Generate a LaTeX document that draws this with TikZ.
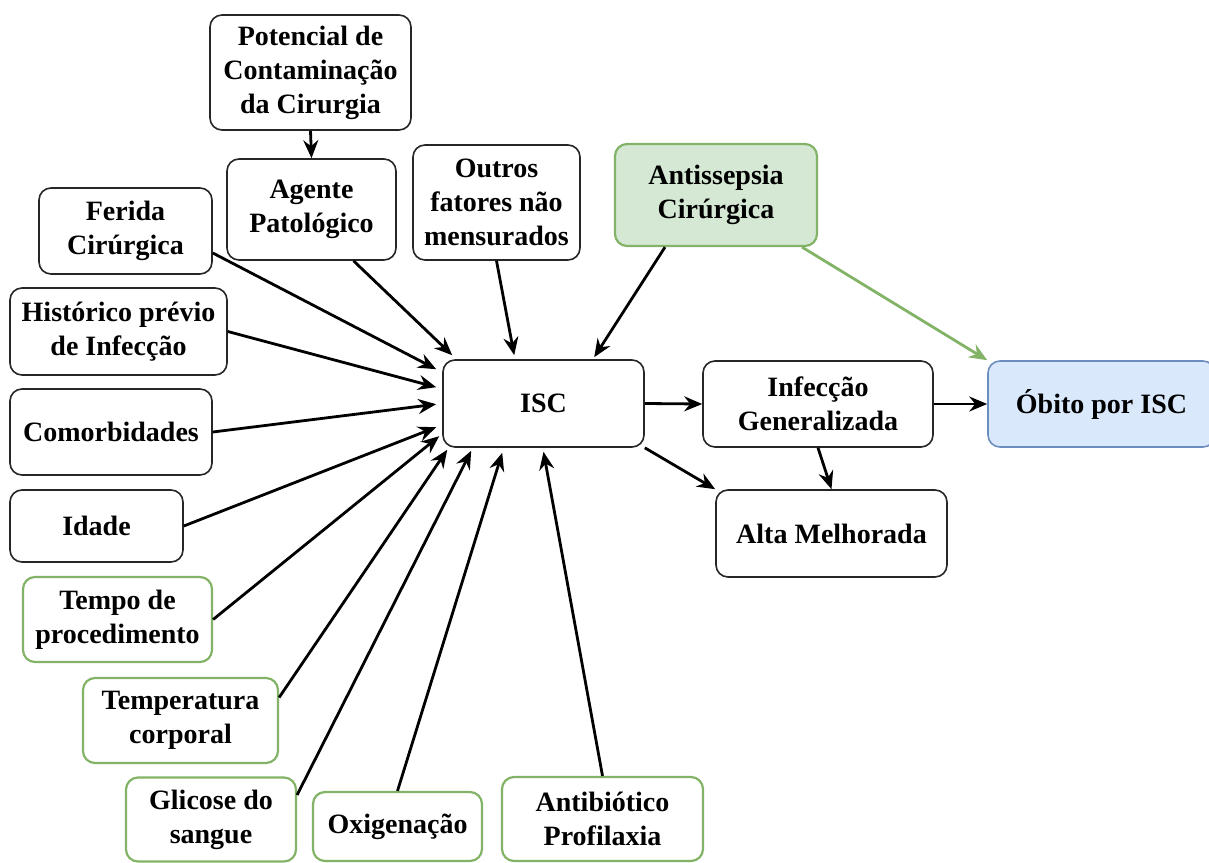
\documentclass[tikz,border=0pt]{standalone}
\usepackage{fontspec}
\setmainfont{Liberation Serif}[BoldFont={Liberation Serif Bold}]
\usetikzlibrary{arrows.meta,calc}
\definecolor{grn}{HTML}{82B366}
\definecolor{grnfill}{HTML}{D5E8D4}
\definecolor{blu}{HTML}{6C8EBF}
\definecolor{blufill}{HTML}{DAE8FC}

\begin{document}
\begin{tikzpicture}[x=0.5pt,y=-0.5pt,
  box/.style={draw=black!85, line width=0.8pt, rounded corners=6pt, fill=white,
    align=center, inner sep=0pt, font=\bfseries\fontsize{14}{17}\selectfont},
  gbox/.style={box, draw=grn, line width=1.1pt},
  arr/.style={line width=1.4pt, -{Stealth[length=9pt,width=7.5pt,inset=3pt]}}]

\useasboundingbox (0,0) rectangle (1209,862);

% causes and outcomes
\node[box, minimum width=100.5pt, minimum height=57.5pt] (pot) at (310.5,72.5) {Potencial de\\Contaminação\\da Cirurgia};
\node[box, minimum width=84.5pt, minimum height=50.5pt] (age) at (311.5,209.5) {Agente\\Patológico};
\node[box, minimum width=83.5pt, minimum height=57.5pt] (out) at (496.5,202.5) {Outros\\fatores não\\mensurados};
\node[box, draw=grn, fill=grnfill, line width=1.1pt, minimum width=101pt, minimum height=51pt] (ant) at (716,195) {Antissepsia\\Cirúrgica};
\node[box, minimum width=86.5pt, minimum height=43pt] (fer) at (125.5,231) {Ferida\\Cirúrgica};
\node[box, minimum width=108.5pt, minimum height=43.5pt] (his) at (118.5,331.5) {Histórico prévio\\de Infecção};
\node[box, minimum width=101pt, minimum height=43pt] (com) at (111,432) {Comorbidades};
\node[box, minimum width=86.5pt, minimum height=36pt] (ida) at (96.5,526) {Idade};
\node[gbox, minimum width=94.5pt, minimum height=42.5pt] (tem) at (117.5,619.5) {Tempo de\\procedimento};
\node[gbox, minimum width=97.5pt, minimum height=42.5pt] (tmp) at (180.5,720.5) {Temperatura\\corporal};
\node[gbox, minimum width=85pt, minimum height=42pt] (gli) at (211,819.5) {Glicose do\\sangue};
\node[gbox, minimum width=84.5pt, minimum height=34.5pt] (oxi) at (397.5,826.5) {Oxigenação};
\node[gbox, minimum width=100.5pt, minimum height=42pt] (atb) at (602.5,819) {Antibiótico\\Profilaxia};
\node[box, minimum width=100.5pt, minimum height=43.5pt] (isc) at (543.5,403.5) {ISC};
\node[box, minimum width=115pt, minimum height=43pt] (inf) at (818,404) {Infecção\\Generalizada};
\node[box, draw=blu, fill=blufill, minimum width=113.5pt, minimum height=43pt] (obi) at (1101.5,404) {Óbito por ISC};
\node[box, minimum width=115.5pt, minimum height=43.5pt] (alt) at (831.5,533.5) {Alta Melhorada};

% connectors
\draw[arr] (pot.south) -- (age.north);
\draw[arr] ($(fer.east)+(0,22)$) -- ($(isc.north west)+(-6,10)$);
\draw[arr] ($(age.south)+(42,0)$) -- ($(isc.north west)+(10,-4)$);
\draw[arr] (out.south) -- ($(isc.north west)+(72,-4)$);
\draw[arr] ($(ant.south)+(-51,0)$) -- ($(isc.north west)+(152,-2)$);
\draw[arr, grn] ($(ant.south)+(86,0)$) -- (obi.north west);
\draw[arr] (his.east) -- ($(isc.north west)+(-6,28)$);
\draw[arr] (com.east) -- ($(isc.north west)+(-6,45)$);
\draw[arr] (ida.east) -- ($(isc.north west)+(-6,68)$);
\draw[arr] (tem.east) -- ($(isc.north west)+(-3,77)$);
\draw[arr] ($(tmp.east)+(0,-23)$) -- ($(isc.south west)+(5,2)$);
\draw[arr] ($(gli.east)+(0,-24.5)$) -- ($(isc.south west)+(29,3)$);
\draw[arr] (oxi.north) -- ($(isc.south west)+(60,5)$);
\draw[arr] (atb.north) -- ($(isc.south)+(0,4)$);
\draw[arr] (isc.east) -- (inf.west);
\draw[arr] (inf.east) -- (obi.west);
\draw[arr] (isc.south east) -- (alt.north west);
\draw[arr] (inf.south) -- (alt.north);
\end{tikzpicture}
\end{document}
